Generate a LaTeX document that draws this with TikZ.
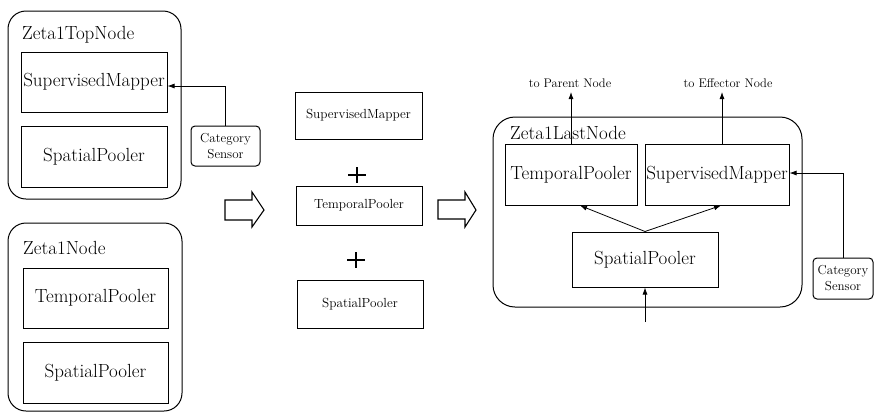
\RequirePackage{fix-cm}
\documentclass[tikz,border=0pt]{standalone}
\usetikzlibrary{arrows.meta}

\tikzset{
  container/.style={draw, line width=1pt, rounded corners=18pt, inner sep=0pt},
  unitbox/.style={draw, line width=1pt, inner sep=0pt, font=\fontsize{19}{21}\selectfont},
  smallbox/.style={draw, line width=1pt, inner sep=0pt, font=\fontsize{13.2}{16}\selectfont},
  sensor/.style={draw, line width=1pt, rounded corners=4pt, inner sep=0pt, align=center,
                 font=\fontsize{13}{16}\selectfont},
  title/.style={anchor=west, inner sep=0pt, font=\fontsize{19}{21}\selectfont},
  outlabel/.style={inner sep=0pt, font=\fontsize{12.5}{15}\selectfont},
  flow/.style={line width=0.8pt, -{Latex[length=7pt,width=5pt]}},
  blockarrow/.style={draw, line width=1.1pt, fill=white, line join=miter},
  plus/.style={line width=2.2pt}
}

\begin{document}
\begin{tikzpicture}[x=1pt, y=-1pt]
\useasboundingbox (0,0) rectangle (875,413);

% ---- Zeta1TopNode ----
\node[container, minimum width=173pt, minimum height=188pt] (topnode) at (94.5,105) {};
\node[title] (toptitle) at (22,35) {Zeta1TopNode};
\node[unitbox, minimum width=146pt, minimum height=60pt] (topsm) at (94,82) {SupervisedMapper};
\node[unitbox, minimum width=146pt, minimum height=61pt] (topsp) at (94,156.5) {SpatialPooler};
\node[sensor, minimum width=69pt, minimum height=40pt] (cat1) at (225.5,146) {Category\\Sensor};
\draw[flow] (cat1.north) |- ([yshift=-4pt]topsm.east);

% ---- Zeta1Node ----
\node[container, minimum width=174pt, minimum height=188pt] (node) at (95,317) {};
\node[title] (nodetitle) at (23,248) {Zeta1Node};
\node[unitbox, minimum width=145pt, minimum height=60pt] (nodetp) at (95.5,298) {TemporalPooler};
\node[unitbox, minimum width=145pt, minimum height=61pt] (nodesp) at (95.5,372.5) {SpatialPooler};

% ---- first block arrow ----
\draw[blockarrow] (225,200) -- (252,200) -- (252,192) -- (264,210) -- (252,227)
  -- (252,220) -- (225,220) -- cycle;

% ---- combined units ----
\node[smallbox, minimum width=127pt, minimum height=47pt] (midsm) at (358.5,115.5) {SupervisedMapper};
\node[smallbox, minimum width=126pt, minimum height=39pt] (midtp) at (359,205.5) {TemporalPooler};
\node[smallbox, minimum width=126pt, minimum height=48pt] (midsp) at (360,304) {SpatialPooler};
\draw[plus] (348,175) -- (366,175) (357,167) -- (357,183);
\draw[plus] (347,260) -- (365,260) (356,252) -- (356,268);

% ---- second block arrow ----
\draw[blockarrow] (438,200) -- (465,200) -- (465,192) -- (476,210) -- (465,227)
  -- (465,219) -- (438,219) -- cycle;

% ---- Zeta1LastNode ----
\node[container, rounded corners=22pt, minimum width=309pt, minimum height=190pt] (lastnode) at (647.5,212) {};
\node[title] (lasttitle) at (510,133) {Zeta1LastNode};
\node[unitbox, minimum width=132pt, minimum height=61pt] (lasttp) at (571,174.5) {TemporalPooler};
\node[unitbox, minimum width=144pt, minimum height=61pt] (lastsm) at (717,174.5) {SupervisedMapper};
\node[unitbox, minimum width=146pt, minimum height=55pt] (lastsp) at (645,259.5) {SpatialPooler};
\node[sensor, minimum width=60pt, minimum height=41pt] (cat2) at (843,278.5) {Category\\Sensor};

\coordinate (toparent) at (571,92);
\coordinate (toeffector) at (722,92);
\coordinate (input) at (645,322);
\node[outlabel] (parentlabel) at (570,83) {to Parent Node};
\node[outlabel] (effectorlabel) at (728,83) {to Effector Node};

\draw[flow] (lasttp.north) -- (toparent);
\draw[flow] ([xshift=5pt]lastsm.north) -- (toeffector);
\draw[flow] (lastsp.north) -- ([xshift=9pt]lasttp.south);
\draw[flow] (lastsp.north) -- ([xshift=4pt]lastsm.south);
\draw[flow] (input) -- (lastsp.south);
\draw[flow] (cat2.north) |- ([yshift=1.5pt]lastsm.east);
\end{tikzpicture}
\end{document}
